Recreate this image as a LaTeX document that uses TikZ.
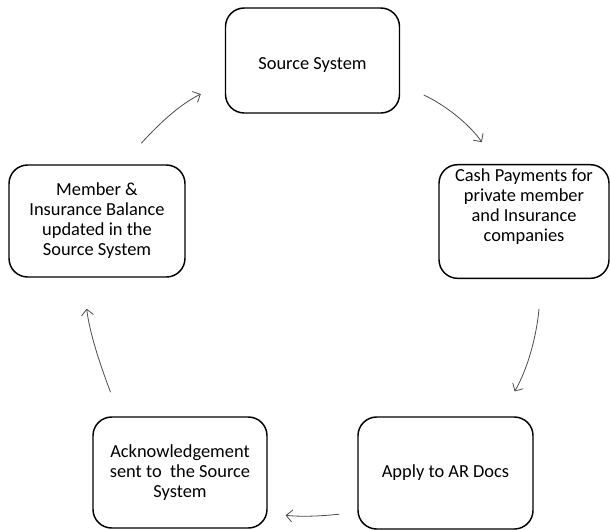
\documentclass[tikz,border=0pt]{standalone}
\usepackage{fontspec}
\setmainfont{Carlito}
\usetikzlibrary{arrows.meta}

\begin{document}
\begin{tikzpicture}[x=0.75pt, y=0.75pt]
			\tikzstyle{box}=[
			draw,
			rectangle,
			line width=1.1pt,
			rounded corners=14pt,
			align=center,
			font=\fontsize{13.8}{15}\selectfont]
			\tikzstyle{flow}=[
			->,
			>={Straight Barb[length=4.5pt, width=9pt]},
			line width=0.6pt,
			draw=black!70]
			\useasboundingbox (0,0) rectangle (610,-529);
			\node[box, minimum width=130.5pt, minimum height=78.75pt, text height=16pt] (SRC) at (312.5,-60.5) {Source System};
			\node[box, minimum width=127.5pt, minimum height=84.75pt, text depth=24pt] (CASH) at (524,-221.5) {Cash Payments for\\private member\\and Insurance\\companies};
			\node[box, minimum width=131.25pt, minimum height=84pt] (AR) at (445.5,-473) {Apply to AR Docs};
			\node[box, minimum width=130.5pt, minimum height=83.25pt] (ACK) at (180,-472.5) {Acknowledgement\\sent to\ \ the Source\\System};
			\node[box, minimum width=132pt, minimum height=84pt] (MEM) at (97,-221) {Member \&\\Insurance Balance\\updated in the\\Source System};
			%
			\path (SRC.-15) edge [flow, out=-25, in=125, shorten <=19.5pt, shorten >=20pt] (CASH.115);
			\path (CASH.-73.6) edge [flow, out=-95, in=60, shorten <=22.5pt, shorten >=21.5pt] (AR.46);
			\path (AR.204.6) edge [flow, out=186, in=-6, shorten <=13.5pt, shorten >=13.5pt] (ACK.-25.5);
			\path (ACK.137.2) edge [flow, out=110.8, in=-83, shorten <=19.3pt, shorten >=23.4pt] (MEM.256.2);
			\path (MEM.66) edge [flow, out=47.8, in=206, shorten <=21.3pt, shorten >=20pt] (SRC.194.1);
		\end{tikzpicture}
\end{document}
